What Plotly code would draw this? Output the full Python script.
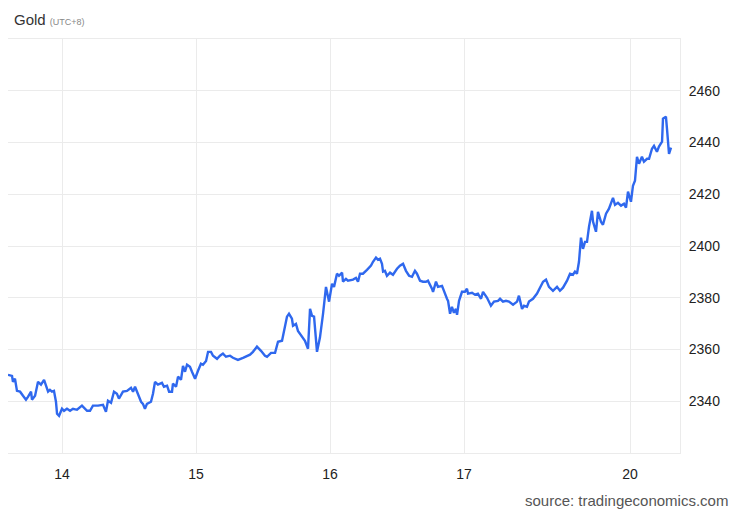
import plotly.graph_objects as go

# Trading-day position (0 = start of the 14th) and gold price
day_pos = [
    -0.403, -0.373, -0.366, -0.351, -0.336, -0.313, -0.291, -0.269, -0.254, -0.231,
    -0.224, -0.201, -0.179, -0.157, -0.134, -0.104, -0.090, -0.075, -0.060, -0.045,
    -0.037, -0.022, 0.000, 0.015, 0.037, 0.060, 0.082, 0.112, 0.149, 0.187,
    0.209, 0.231, 0.269, 0.306, 0.328, 0.343, 0.366, 0.388, 0.410, 0.425,
    0.455, 0.485, 0.515, 0.530, 0.545, 0.560, 0.590, 0.604, 0.619, 0.634,
    0.664, 0.679, 0.694, 0.716, 0.746, 0.761, 0.784, 0.799, 0.821, 0.828,
    0.851, 0.866, 0.888, 0.903, 0.918, 0.933, 0.955, 0.970, 0.993, 1.015,
    1.037, 1.052, 1.075, 1.090, 1.112, 1.127, 1.157, 1.179, 1.201, 1.224,
    1.254, 1.276, 1.313, 1.351, 1.381, 1.403, 1.425, 1.455, 1.485, 1.515,
    1.530, 1.560, 1.590, 1.612, 1.642, 1.657, 1.679, 1.694, 1.716, 1.724,
    1.746, 1.761, 1.791, 1.813, 1.836, 1.851, 1.866, 1.881, 1.903, 1.925,
    1.948, 1.970, 1.993, 2.015, 2.030, 2.052, 2.067, 2.090, 2.097, 2.119,
    2.134, 2.172, 2.194, 2.209, 2.224, 2.246, 2.276, 2.306, 2.321, 2.343,
    2.358, 2.373, 2.388, 2.396, 2.410, 2.425, 2.448, 2.470, 2.500, 2.522,
    2.545, 2.567, 2.590, 2.612, 2.634, 2.649, 2.672, 2.694, 2.716, 2.731,
    2.761, 2.769, 2.791, 2.806, 2.836, 2.851, 2.873, 2.881, 2.896, 2.910,
    2.925, 2.940, 2.948, 2.963, 2.985, 3.007, 3.022, 3.030, 3.060, 3.082,
    3.104, 3.127, 3.142, 3.172, 3.201, 3.224, 3.254, 3.269, 3.291, 3.313,
    3.336, 3.366, 3.396, 3.410, 3.433, 3.448, 3.470, 3.485, 3.515, 3.545,
    3.575, 3.590, 3.612, 3.634, 3.664, 3.694, 3.716, 3.739, 3.769, 3.791,
    3.813, 3.828, 3.843, 3.858, 3.873, 3.888, 3.903, 3.918, 3.933, 3.955,
    3.963, 3.985, 4.000, 4.022, 4.037, 4.060, 4.082, 4.112, 4.127, 4.149,
    4.172, 4.194, 4.209, 4.224, 4.246, 4.261, 4.276, 4.291, 4.306, 4.328,
    4.343, 4.366, 4.381, 4.403, 4.418, 4.440, 4.455, 4.478, 4.485, 4.507,
    4.515, 4.530, 4.545,
]

price = [
    2350.2, 2349.8, 2347.5, 2348.7, 2344.0, 2343.7, 2342.1, 2340.6, 2341.7, 2343.7,
    2340.6, 2342.1, 2347.5, 2346.4, 2348.3, 2343.7, 2344.4, 2343.7, 2344.0, 2339.8,
    2335.2, 2334.4, 2337.1, 2336.3, 2337.1, 2336.3, 2337.1, 2336.7, 2338.3, 2336.3,
    2336.3, 2338.3, 2338.3, 2338.6, 2335.9, 2340.2, 2339.4, 2343.7, 2342.9, 2341.0,
    2343.7, 2344.0, 2345.2, 2343.7, 2345.6, 2343.7, 2339.8, 2339.0, 2337.1, 2339.0,
    2339.8, 2342.9, 2347.5, 2346.4, 2347.1, 2345.6, 2346.0, 2343.7, 2343.7, 2346.8,
    2345.6, 2349.5, 2348.3, 2353.7, 2351.4, 2354.1, 2353.3, 2351.4, 2348.7, 2351.8,
    2354.5, 2354.1, 2355.6, 2359.1, 2359.1, 2357.6, 2356.4, 2357.6, 2358.4, 2357.2,
    2357.6, 2356.8, 2356.0, 2356.8, 2357.6, 2358.0, 2359.1, 2361.1, 2359.5, 2357.6,
    2357.2, 2358.7, 2358.7, 2363.0, 2363.4, 2366.9, 2372.7, 2373.8, 2371.9, 2369.2,
    2369.9, 2367.2, 2364.9, 2363.4, 2360.3, 2375.7, 2373.0, 2372.7, 2359.1, 2364.6,
    2373.8, 2384.2, 2378.5, 2385.4, 2384.2, 2389.3, 2388.5, 2389.7, 2386.2, 2387.3,
    2386.6, 2387.0, 2387.7, 2386.2, 2389.3, 2389.3, 2390.8, 2392.4, 2393.9, 2395.5,
    2394.7, 2395.1, 2393.1, 2390.1, 2390.4, 2388.5, 2389.7, 2388.9, 2391.2, 2392.4,
    2393.1, 2390.4, 2388.5, 2388.1, 2390.4, 2389.3, 2386.6, 2386.2, 2386.2, 2386.6,
    2383.5, 2382.3, 2386.2, 2384.2, 2384.6, 2382.3, 2379.6, 2378.8, 2373.8, 2376.5,
    2374.2, 2375.7, 2373.4, 2378.8, 2382.3, 2382.3, 2383.5, 2381.6, 2381.9, 2381.2,
    2381.6, 2379.6, 2382.3, 2380.0, 2376.9, 2378.5, 2378.8, 2379.6, 2378.5, 2378.8,
    2378.5, 2377.3, 2378.5, 2380.8, 2375.7, 2376.9, 2376.5, 2378.5, 2379.6, 2381.6,
    2384.6, 2386.2, 2387.0, 2384.2, 2382.7, 2384.2, 2382.7, 2383.9, 2386.6, 2389.3,
    2388.9, 2390.1, 2389.3, 2393.9, 2403.2, 2398.9, 2401.6, 2401.6, 2407.5, 2413.6,
    2409.4, 2405.5, 2413.2, 2409.4, 2408.2, 2412.5, 2414.4, 2418.6, 2415.9, 2416.7,
    2415.6, 2416.3, 2414.8, 2421.0, 2417.1, 2423.3, 2425.2, 2434.5, 2431.8, 2434.5,
    2432.6, 2433.7, 2433.7, 2437.6, 2438.7, 2436.4, 2438.4, 2440.3, 2449.2, 2450.0,
    2445.3, 2435.6, 2438.0,
]

tick_pos = [0, 1, 2, 3, 4.239]
tick_text = ["14", "15", "16", "17", "20"]
y_ticks = [2340, 2360, 2380, 2400, 2420, 2440, 2460]

# The page body adds an 8px offset, so the figure is sized 732x505
W, H = 732, 505
L, R, T, B = 0, 60, 31, 60
pw, ph = W - L - R, H - T - B

fig = go.Figure()
fig.add_trace(go.Scatter(
    x=day_pos, y=price, mode="lines",
    line=dict(color="#2f68ee", width=2.4, shape="linear"),
    hoverinfo="skip", showlegend=False,
))

grid = "#ebebeb"
fig.update_layout(
    width=W, height=H,
    margin=dict(l=L, r=R, t=T, b=B, pad=0),
    paper_bgcolor="white", plot_bgcolor="white",
    font=dict(family="Liberation Sans, Arial, sans-serif", size=14, color="#222"),
    xaxis=dict(
        range=[-0.403, 4.612],
        tickmode="array", tickvals=tick_pos, ticktext=tick_text,
        showgrid=True, gridcolor=grid, gridwidth=1,
        showline=True, linecolor=grid, linewidth=1, mirror=True,
        zeroline=False, ticks="", ticklabelstandoff=8,
        tickfont=dict(size=14, color="#222"),
    ),
    yaxis=dict(
        range=[2320, 2480], side="right",
        tickmode="array", tickvals=y_ticks,
        showgrid=True, gridcolor=grid, gridwidth=1,
        showline=True, linecolor=grid, linewidth=1,
        zeroline=False, ticks="", ticklabelstandoff=5,
        tickfont=dict(size=14, color="#222"),
    ),
    annotations=[
        dict(text="Gold <span style='font-size:9px;color:#888'>(UTC+8)</span>",
             x=(4 - L) / pw, y=(H - B - 11) / ph, xref="paper", yref="paper",
             showarrow=False, xanchor="left", yanchor="middle",
             font=dict(size=15, color="#333")),
        dict(text="source: tradingeconomics.com",
             x=(722 - L) / pw, y=(H - B - 492) / ph, xref="paper", yref="paper",
             showarrow=False, xanchor="right", yanchor="middle",
             font=dict(size=15, color="#555")),
    ],
)

fig.write_html("out.html")
